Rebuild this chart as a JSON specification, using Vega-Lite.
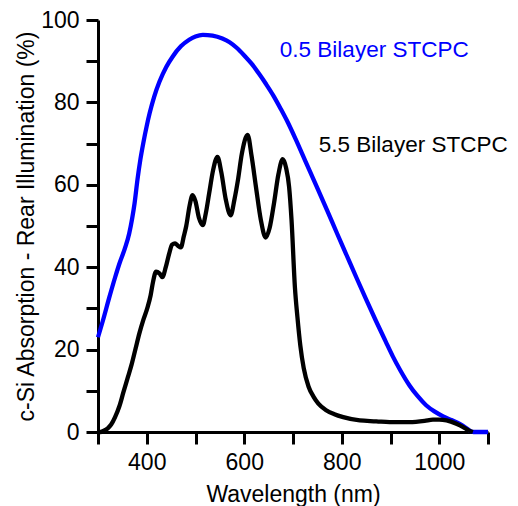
{
  "$schema": "https://vega.github.io/schema/vega-lite/v6.json",
  "width": 390,
  "height": 412,
  "autosize": {"type": "none"},
  "padding": {"left": 98, "top": 20, "right": 30, "bottom": 74},
  "background": "white",
  "config": {
    "view": {"stroke": null},
    "font": "Liberation Sans",
    "axis": {
      "grid": false,
      "domainColor": "black",
      "domainWidth": 3,
      "tickColor": "black",
      "tickWidth": 3,
      "tickSize": 12,
      "labelFont": "Liberation Sans",
      "labelFontSize": 23,
      "labelColor": "black",
      "labelPadding": 7,
      "labelOverlap": false,
      "labelBound": false,
      "labelFlush": false,
      "titleFont": "Liberation Sans",
      "titleFontSize": 23,
      "titleFontWeight": "normal",
      "titleColor": "black"
    }
  },
  "datasets": {
    "curves": [
      {"series": "0.5 Bilayer STCPC", "wl": 300, "abs": 23.0},
      {"series": "0.5 Bilayer STCPC", "wl": 310, "abs": 27.0},
      {"series": "0.5 Bilayer STCPC", "wl": 323, "abs": 32.6},
      {"series": "0.5 Bilayer STCPC", "wl": 335, "abs": 37.5},
      {"series": "0.5 Bilayer STCPC", "wl": 344, "abs": 40.9},
      {"series": "0.5 Bilayer STCPC", "wl": 355, "abs": 44.5},
      {"series": "0.5 Bilayer STCPC", "wl": 364, "abs": 48.2},
      {"series": "0.5 Bilayer STCPC", "wl": 370, "abs": 51.8},
      {"series": "0.5 Bilayer STCPC", "wl": 375, "abs": 55.5},
      {"series": "0.5 Bilayer STCPC", "wl": 381, "abs": 61.3},
      {"series": "0.5 Bilayer STCPC", "wl": 387, "abs": 66.2},
      {"series": "0.5 Bilayer STCPC", "wl": 393, "abs": 70.2},
      {"series": "0.5 Bilayer STCPC", "wl": 400, "abs": 74.3},
      {"series": "0.5 Bilayer STCPC", "wl": 406, "abs": 77.4},
      {"series": "0.5 Bilayer STCPC", "wl": 415, "abs": 81.3},
      {"series": "0.5 Bilayer STCPC", "wl": 426, "abs": 85.0},
      {"series": "0.5 Bilayer STCPC", "wl": 440, "abs": 88.6},
      {"series": "0.5 Bilayer STCPC", "wl": 453, "abs": 91.1},
      {"series": "0.5 Bilayer STCPC", "wl": 470, "abs": 93.6},
      {"series": "0.5 Bilayer STCPC", "wl": 487, "abs": 95.2},
      {"series": "0.5 Bilayer STCPC", "wl": 500, "abs": 96.0},
      {"series": "0.5 Bilayer STCPC", "wl": 515, "abs": 96.4},
      {"series": "0.5 Bilayer STCPC", "wl": 535, "abs": 96.2},
      {"series": "0.5 Bilayer STCPC", "wl": 555, "abs": 95.5},
      {"series": "0.5 Bilayer STCPC", "wl": 570, "abs": 94.6},
      {"series": "0.5 Bilayer STCPC", "wl": 585, "abs": 93.2},
      {"series": "0.5 Bilayer STCPC", "wl": 600, "abs": 91.4},
      {"series": "0.5 Bilayer STCPC", "wl": 615, "abs": 89.4},
      {"series": "0.5 Bilayer STCPC", "wl": 630, "abs": 87.0},
      {"series": "0.5 Bilayer STCPC", "wl": 645, "abs": 84.4},
      {"series": "0.5 Bilayer STCPC", "wl": 660, "abs": 81.6},
      {"series": "0.5 Bilayer STCPC", "wl": 675, "abs": 78.4},
      {"series": "0.5 Bilayer STCPC", "wl": 690, "abs": 75.0},
      {"series": "0.5 Bilayer STCPC", "wl": 705, "abs": 71.2},
      {"series": "0.5 Bilayer STCPC", "wl": 720, "abs": 67.2},
      {"series": "0.5 Bilayer STCPC", "wl": 735, "abs": 63.2},
      {"series": "0.5 Bilayer STCPC", "wl": 750, "abs": 59.2},
      {"series": "0.5 Bilayer STCPC", "wl": 770, "abs": 53.8},
      {"series": "0.5 Bilayer STCPC", "wl": 790, "abs": 48.3},
      {"series": "0.5 Bilayer STCPC", "wl": 810, "abs": 42.9},
      {"series": "0.5 Bilayer STCPC", "wl": 830, "abs": 37.5},
      {"series": "0.5 Bilayer STCPC", "wl": 850, "abs": 32.2},
      {"series": "0.5 Bilayer STCPC", "wl": 870, "abs": 27.0},
      {"series": "0.5 Bilayer STCPC", "wl": 890, "abs": 22.0},
      {"series": "0.5 Bilayer STCPC", "wl": 905, "abs": 18.3},
      {"series": "0.5 Bilayer STCPC", "wl": 920, "abs": 15.0},
      {"series": "0.5 Bilayer STCPC", "wl": 939, "abs": 11.3},
      {"series": "0.5 Bilayer STCPC", "wl": 955, "abs": 8.8},
      {"series": "0.5 Bilayer STCPC", "wl": 973, "abs": 6.5},
      {"series": "0.5 Bilayer STCPC", "wl": 990, "abs": 5.0},
      {"series": "0.5 Bilayer STCPC", "wl": 1008, "abs": 3.8},
      {"series": "0.5 Bilayer STCPC", "wl": 1025, "abs": 2.9},
      {"series": "0.5 Bilayer STCPC", "wl": 1042, "abs": 2.0},
      {"series": "0.5 Bilayer STCPC", "wl": 1055, "abs": 1.0},
      {"series": "0.5 Bilayer STCPC", "wl": 1064, "abs": 0.2},
      {"series": "0.5 Bilayer STCPC", "wl": 1070, "abs": 0.0},
      {"series": "0.5 Bilayer STCPC", "wl": 1100, "abs": 0.0},
      {"series": "5.5 Bilayer STCPC", "wl": 300, "abs": 0.0},
      {"series": "5.5 Bilayer STCPC", "wl": 305, "abs": 0.0},
      {"series": "5.5 Bilayer STCPC", "wl": 312, "abs": 0.3},
      {"series": "5.5 Bilayer STCPC", "wl": 320, "abs": 0.9},
      {"series": "5.5 Bilayer STCPC", "wl": 327, "abs": 1.8},
      {"series": "5.5 Bilayer STCPC", "wl": 335, "abs": 3.6},
      {"series": "5.5 Bilayer STCPC", "wl": 344, "abs": 6.3},
      {"series": "5.5 Bilayer STCPC", "wl": 352, "abs": 9.6},
      {"series": "5.5 Bilayer STCPC", "wl": 361, "abs": 13.2},
      {"series": "5.5 Bilayer STCPC", "wl": 369, "abs": 16.4},
      {"series": "5.5 Bilayer STCPC", "wl": 377, "abs": 20.2},
      {"series": "5.5 Bilayer STCPC", "wl": 385, "abs": 24.0},
      {"series": "5.5 Bilayer STCPC", "wl": 393, "abs": 27.2},
      {"series": "5.5 Bilayer STCPC", "wl": 401, "abs": 30.0},
      {"series": "5.5 Bilayer STCPC", "wl": 408, "abs": 33.2},
      {"series": "5.5 Bilayer STCPC", "wl": 413, "abs": 36.5},
      {"series": "5.5 Bilayer STCPC", "wl": 419, "abs": 38.9},
      {"series": "5.5 Bilayer STCPC", "wl": 426, "abs": 38.5},
      {"series": "5.5 Bilayer STCPC", "wl": 432, "abs": 37.6},
      {"series": "5.5 Bilayer STCPC", "wl": 439, "abs": 40.0},
      {"series": "5.5 Bilayer STCPC", "wl": 446, "abs": 43.3},
      {"series": "5.5 Bilayer STCPC", "wl": 452, "abs": 45.5},
      {"series": "5.5 Bilayer STCPC", "wl": 458, "abs": 45.8},
      {"series": "5.5 Bilayer STCPC", "wl": 464, "abs": 45.2},
      {"series": "5.5 Bilayer STCPC", "wl": 470, "abs": 44.8},
      {"series": "5.5 Bilayer STCPC", "wl": 476, "abs": 47.5},
      {"series": "5.5 Bilayer STCPC", "wl": 481, "abs": 50.0},
      {"series": "5.5 Bilayer STCPC", "wl": 488, "abs": 55.0},
      {"series": "5.5 Bilayer STCPC", "wl": 494, "abs": 57.5},
      {"series": "5.5 Bilayer STCPC", "wl": 500, "abs": 56.0},
      {"series": "5.5 Bilayer STCPC", "wl": 507, "abs": 52.0},
      {"series": "5.5 Bilayer STCPC", "wl": 515, "abs": 50.2},
      {"series": "5.5 Bilayer STCPC", "wl": 521, "abs": 53.0},
      {"series": "5.5 Bilayer STCPC", "wl": 528, "abs": 57.9},
      {"series": "5.5 Bilayer STCPC", "wl": 536, "abs": 63.5},
      {"series": "5.5 Bilayer STCPC", "wl": 545, "abs": 66.8},
      {"series": "5.5 Bilayer STCPC", "wl": 553, "abs": 63.0},
      {"series": "5.5 Bilayer STCPC", "wl": 562, "abs": 56.5},
      {"series": "5.5 Bilayer STCPC", "wl": 572, "abs": 52.6},
      {"series": "5.5 Bilayer STCPC", "wl": 580, "abs": 56.5},
      {"series": "5.5 Bilayer STCPC", "wl": 587, "abs": 61.1},
      {"series": "5.5 Bilayer STCPC", "wl": 595, "abs": 67.5},
      {"series": "5.5 Bilayer STCPC", "wl": 607, "abs": 72.1},
      {"series": "5.5 Bilayer STCPC", "wl": 615, "abs": 67.0},
      {"series": "5.5 Bilayer STCPC", "wl": 624, "abs": 59.5},
      {"series": "5.5 Bilayer STCPC", "wl": 634, "abs": 51.5},
      {"series": "5.5 Bilayer STCPC", "wl": 644, "abs": 47.2},
      {"series": "5.5 Bilayer STCPC", "wl": 652, "abs": 49.5},
      {"series": "5.5 Bilayer STCPC", "wl": 661, "abs": 55.5},
      {"series": "5.5 Bilayer STCPC", "wl": 670, "abs": 62.5},
      {"series": "5.5 Bilayer STCPC", "wl": 679, "abs": 66.2},
      {"series": "5.5 Bilayer STCPC", "wl": 686, "abs": 64.0},
      {"series": "5.5 Bilayer STCPC", "wl": 692, "abs": 59.5},
      {"series": "5.5 Bilayer STCPC", "wl": 697, "abs": 51.4},
      {"series": "5.5 Bilayer STCPC", "wl": 704, "abs": 35.0},
      {"series": "5.5 Bilayer STCPC", "wl": 709, "abs": 28.0},
      {"series": "5.5 Bilayer STCPC", "wl": 715, "abs": 21.0},
      {"series": "5.5 Bilayer STCPC", "wl": 722, "abs": 15.5},
      {"series": "5.5 Bilayer STCPC", "wl": 732, "abs": 11.0},
      {"series": "5.5 Bilayer STCPC", "wl": 742, "abs": 8.6},
      {"series": "5.5 Bilayer STCPC", "wl": 752, "abs": 6.9},
      {"series": "5.5 Bilayer STCPC", "wl": 768, "abs": 5.3},
      {"series": "5.5 Bilayer STCPC", "wl": 785, "abs": 4.3},
      {"series": "5.5 Bilayer STCPC", "wl": 803, "abs": 3.6},
      {"series": "5.5 Bilayer STCPC", "wl": 837, "abs": 2.8},
      {"series": "5.5 Bilayer STCPC", "wl": 871, "abs": 2.6},
      {"series": "5.5 Bilayer STCPC", "wl": 898, "abs": 2.4},
      {"series": "5.5 Bilayer STCPC", "wl": 939, "abs": 2.4},
      {"series": "5.5 Bilayer STCPC", "wl": 970, "abs": 2.7},
      {"series": "5.5 Bilayer STCPC", "wl": 987, "abs": 3.0},
      {"series": "5.5 Bilayer STCPC", "wl": 1000, "abs": 3.0},
      {"series": "5.5 Bilayer STCPC", "wl": 1015, "abs": 2.8},
      {"series": "5.5 Bilayer STCPC", "wl": 1035, "abs": 2.0},
      {"series": "5.5 Bilayer STCPC", "wl": 1049, "abs": 1.2},
      {"series": "5.5 Bilayer STCPC", "wl": 1060, "abs": 0.4},
      {"series": "5.5 Bilayer STCPC", "wl": 1069, "abs": 0.0}
    ],
    "labels": [
      {"series": "0.5 Bilayer STCPC", "wl": 673, "abs": 90.9},
      {"series": "5.5 Bilayer STCPC", "wl": 753, "abs": 68.0}
    ]
  },
  "layer": [
    {
      "data": {"name": "curves"},
      "mark": {"type": "line", "strokeWidth": 4.3, "interpolate": "monotone"},
      "encoding": {
        "x": {
          "field": "wl", "type": "quantitative",
          "scale": {"domain": [300, 1100], "nice": false, "zero": false},
          "axis": {
            "title": "Wavelength (nm)",
            "values": [300, 400, 500, 600, 700, 800, 900, 1000, 1100],
            "format": "d",
            "labelExpr": "(datum.value % 200 == 0 && datum.value >= 400 && datum.value <= 1000) ? datum.label : ''",
            "titlePadding": 9
          }
        },
        "y": {
          "field": "abs", "type": "quantitative",
          "scale": {"domain": [0, 100], "nice": false},
          "axis": {
            "title": "c-Si Absorption - Rear Illumination (%)",
            "values": [0, 10, 20, 30, 40, 50, 60, 70, 80, 90, 100],
            "format": "d",
            "labelExpr": "datum.value % 20 == 0 ? datum.label : ''",
            "titlePadding": 2
          }
        },
        "color": {
          "field": "series", "type": "nominal",
          "scale": {"domain": ["0.5 Bilayer STCPC", "5.5 Bilayer STCPC"], "range": ["#0000ff", "#000000"]},
          "legend": null
        },
        "order": {"field": "wl", "type": "quantitative"}
      }
    },
    {
      "data": {"name": "labels"},
      "mark": {"type": "text", "align": "left", "baseline": "alphabetic", "fontSize": 22.5, "font": "Liberation Sans"},
      "encoding": {
        "x": {"field": "wl", "type": "quantitative"},
        "y": {"field": "abs", "type": "quantitative"},
        "text": {"field": "series"},
        "color": {"field": "series", "type": "nominal", "legend": null}
      }
    }
  ]
}
